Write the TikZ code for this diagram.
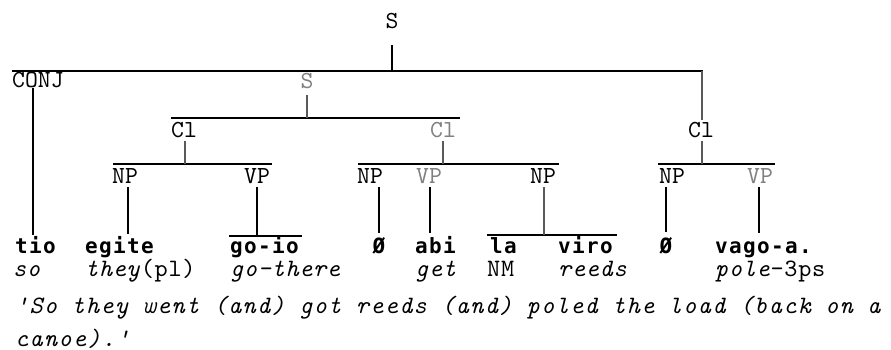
\documentclass[tikz,border=0pt]{standalone}
\usepackage{fontspec}
\newfontfamily\labfont{lmmono10-regular.otf}
\newfontfamily\wrdfont[LetterSpace=6.5]{DejaVu Sans Mono}
\newfontfamily\glsfont{lmmono10-regular.otf}[ItalicFont=lmmono10-italic.otf, LetterSpace=2.8]
\newfontfamily\trlfont{lmmono10-regular.otf}[ItalicFont=lmmono10-italic.otf, LetterSpace=5.4]
\definecolor{lgray}{gray}{0.5}
\definecolor{sgray}{gray}{0.35}
\tikzset{
  lab/.style={font=\labfont\fontsize{24.5}{24.5}\selectfont, inner sep=0pt, anchor=base},
  glab/.style={lab, text=lgray},
  wrd/.style={font=\wrdfont\bfseries\fontsize{21}{21}\selectfont, inner sep=0pt, anchor=base west},
  gls/.style={font=\glsfont\fontsize{25}{25}\selectfont, inner sep=0pt, anchor=base west},
  trl/.style={font=\trlfont\itshape\fontsize{25}{25}\selectfont, inner sep=0pt, anchor=base west},
  bar/.style={line width=2pt},
  stem/.style={line width=1.3pt},
  gstem/.style={line width=1.3pt, draw=sgray},
  tstem/.style={line width=2.4pt},
}
\begin{document}
\begin{tikzpicture}[x=1pt,y=-1pt]
\useasboundingbox (0,0) rectangle (891,350);
% labels
\node[lab] (S0) at (392,29) {S};
\node[lab, anchor=base west] (conj) at (12,88) {CONJ};
\node[glab] (S1) at (307,89) {S};
\node[lab] (Cl1) at (184,138) {Cl};
\node[glab] (Cl2) at (443,138) {Cl};
\node[lab] (Cl3) at (701,138) {Cl};
\node[lab] (NP1) at (125,183) {NP};
\node[lab] (VP1) at (257,183) {VP};
\node[lab] (NP2) at (370,183) {NP};
\node[glab] (VP2) at (429,183) {VP};
\node[lab] (NP3) at (543,183) {NP};
\node[lab] (NP4) at (672,183) {NP};
\node[glab] (VP3) at (760,183) {VP};
% words
\node[wrd] (w1) at (15,253) {tio};
\node[wrd] (w2) at (85,253) {egite};
\node[wrd] (w3) at (230,253) {go-io};
\node[wrd, anchor=base] (w4) at (379,253) {Ø};
\node[wrd] (w5) at (415,253) {abi};
\node[wrd] (w6) at (490,253) {la};
\node[wrd] (w7) at (558,253) {viro};
\node[wrd, anchor=base] (w8) at (666,253) {Ø};
\node[wrd] (w9) at (715,253) {vago-a.};
% glosses
\node[gls] (g1) at (13,276) {\itshape so};
\node[gls] (g2) at (85,276) {\textit{they}(pl)};
\node[gls] (g3) at (230,276) {\itshape go-there};
\node[gls] (g4) at (415,276) {\itshape get};
\node[gls] (g5) at (487,276) {NM};
\node[gls] (g6) at (558,276) {\itshape reeds};
\node[gls] (g7) at (715,276) {\textit{pole}-3ps};
% translation
\node[trl] (t1) at (15,313) {'So they went (and) got reeds (and) poled the load (back on a};
\node[trl] (t2) at (15,346) {canoe).'};
% coordinates of bars and stems
\coordinate (b1l) at (12,71);  \coordinate (b1r) at (703,71);
\coordinate (s0a) at (392,45); \coordinate (s0b) at (392,71);
\coordinate (cja) at (33,88);  \coordinate (cjb) at (33,235);
\coordinate (s1a) at (307,95); \coordinate (s1b) at (307,118);
\coordinate (b2l) at (171,118); \coordinate (b2r) at (460,118);
\coordinate (c3a) at (702,71); \coordinate (c3b) at (702,120);
\coordinate (c1a) at (185,141); \coordinate (c1b) at (185,164);
\coordinate (c2a) at (443,141); \coordinate (c2b) at (443,164);
\coordinate (c3c) at (702,141); \coordinate (c3d) at (702,164);
\coordinate (b3al) at (113,164); \coordinate (b3ar) at (272,164);
\coordinate (b3bl) at (358,164); \coordinate (b3br) at (559,164);
\coordinate (b3cl) at (658,164); \coordinate (b3cr) at (775,164);
\coordinate (n1a) at (128,187); \coordinate (n1b) at (128,234);
\coordinate (v1a) at (257,187); \coordinate (v1b) at (257,236);
\coordinate (b4al) at (229,236); \coordinate (b4ar) at (302,236);
\coordinate (n2a) at (379,187); \coordinate (n2b) at (379,233);
\coordinate (v2a) at (430,187); \coordinate (v2b) at (430,233);
\coordinate (n3a) at (544,187); \coordinate (n3b) at (544,235);
\coordinate (b4bl) at (487,235); \coordinate (b4br) at (617,235);
\coordinate (n4a) at (666,187); \coordinate (n4b) at (666,232);
\coordinate (v3a) at (759,187); \coordinate (v3b) at (759,233);
% bars
\draw[bar] (b1l) -- (b1r);
\draw[bar] (b2l) -- (b2r);
\draw[bar] (b3al) -- (b3ar);
\draw[bar] (b3bl) -- (b3br);
\draw[bar] (b3cl) -- (b3cr);
\draw[bar] (b4al) -- (b4ar);
\draw[bar] (b4bl) -- (b4br);
% stems
\draw[stem] (s0a) -- (s0b);
\draw[tstem, line width=1.8pt] (cja) -- (cjb);
\draw[gstem] (s1a) -- (s1b);
\draw[gstem] (c3a) -- (c3b);
\draw[gstem] (c1a) -- (c1b);
\draw[gstem] (c2a) -- (c2b);
\draw[gstem] (c3c) -- (c3d);
\draw[stem] (n1a) -- (n1b);
\draw[tstem] (v1a) -- (v1b);
\draw[tstem] (n2a) -- (n2b);
\draw[tstem] (v2a) -- (v2b);
\draw[gstem] (n3a) -- (n3b);
\draw[tstem] (n4a) -- (n4b);
\draw[tstem] (v3a) -- (v3b);
\end{tikzpicture}
\end{document}
